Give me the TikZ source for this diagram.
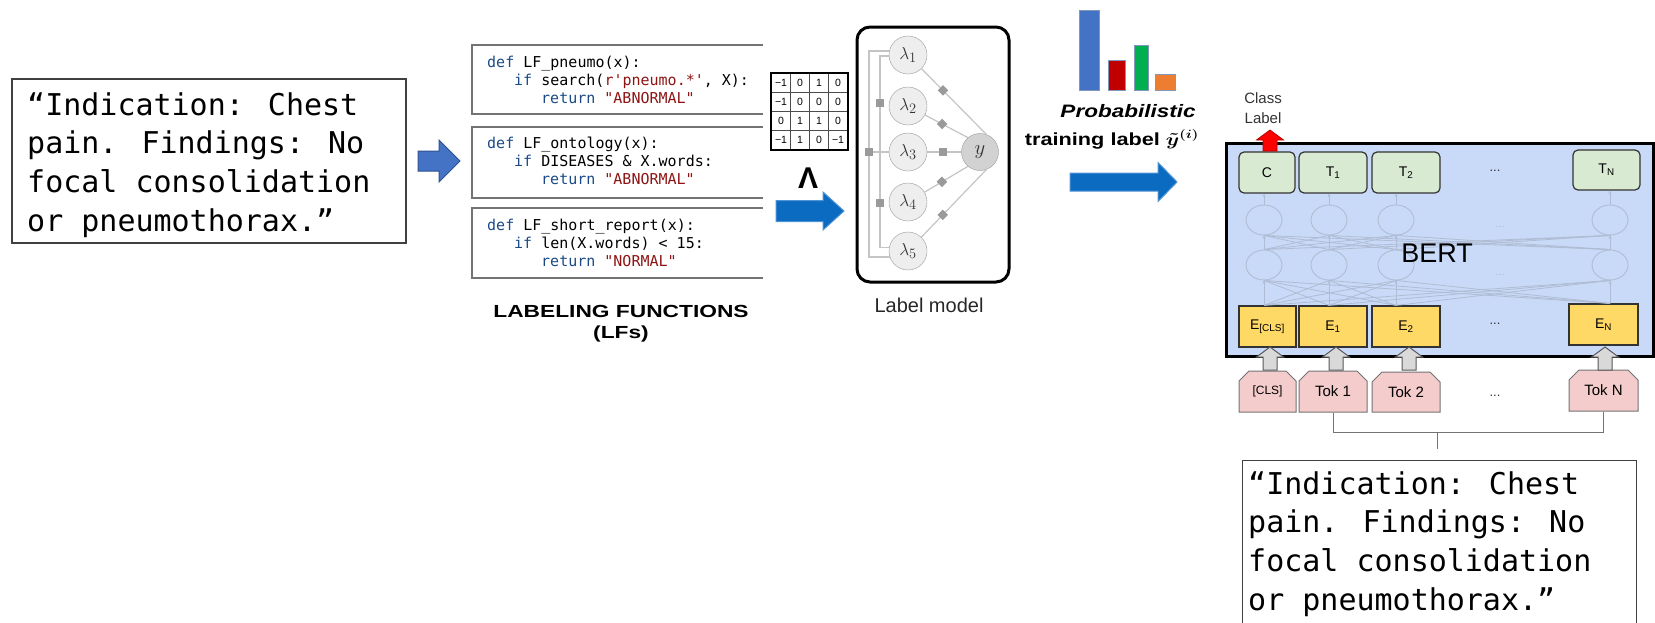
\documentclass[tikz,border=0pt]{standalone}
\usepackage{fontspec}
\usepackage{graphicx}
\usetikzlibrary{shapes.geometric,shapes.misc,arrows.meta,matrix}
\setmainfont{Liberation Sans}
\newfontfamily\reportfont{DejaVu Sans Mono}
\newfontfamily\codefont{DejaVu Sans Mono}

\definecolor{kwblue}{HTML}{1B4A86}
\definecolor{strred}{HTML}{8E1414}
\definecolor{arrowA}{HTML}{4472C4}
\definecolor{arrowAline}{HTML}{2F528F}
\definecolor{arrowB}{HTML}{0B6BC0}
\definecolor{arrowBline}{HTML}{4F93D6}
\definecolor{bertbg}{HTML}{C9DAF8}
\definecolor{tgreen}{HTML}{D9EAD3}
\definecolor{eyellow}{HTML}{FFD966}
\definecolor{tokpink}{HTML}{F4CCCC}
\definecolor{netgray}{HTML}{AFBCD3}
\definecolor{lmline}{HTML}{C4C4C4}
\definecolor{lmfac}{HTML}{9A9A9A}
\definecolor{lmnode}{HTML}{EEEEEE}
\definecolor{lmy}{HTML}{D2D2D2}
\definecolor{barblue}{HTML}{4472C4}
\definecolor{barred}{HTML}{C00000}
\definecolor{bargreen}{HTML}{00B050}
\definecolor{barorange}{HTML}{ED7D31}

% block arrow pointing right: style, tail x, tip x, centre y, half shaft, half head, head base x
\newcommand{\blockright}[7]{%
  \path[#1] (#2,#4-#5) -- (#7,#4-#5) -- (#7,#4-#6) -- (#3,#4) -- (#7,#4+#6)
    -- (#7,#4+#5) -- (#2,#4+#5) -- cycle;}
% block arrow pointing up: style, x, tip y, tail y
\newcommand{\blockup}[4]{%
  \path[#1] (#2-7,#4) -- (#2-7,#3+10) -- (#2-13.5,#3+10) -- (#2,#3)
    -- (#2+13.5,#3+10) -- (#2+7,#3+10) -- (#2+7,#4) -- cycle;}

\begin{document}
\begin{tikzpicture}[x=1pt,y=-1pt,
  reportframe/.style={draw=black!75,line width=1.3},
  reporttext/.style={font=\reportfont\fontsize{30}{38.6}\selectfont,align=left,inner sep=0,anchor=north west},
  codeframe/.style={draw=black!55,line width=1.5},
  codetext/.style={font=\codefont\fontsize{15}{18.3}\selectfont,align=left,inner sep=0,anchor=north west},
  bluearrow/.style={fill=arrowB,draw=arrowBline,line width=1},
  lmbox/.style={draw=black,line width=3,rounded corners=13,minimum width=152,minimum height=255,inner sep=0},
  lmvar/.style={circle,draw=black!40,fill=lmnode,minimum size=38,inner sep=0,font=\fontsize{19}{19}\selectfont,text=black!80},
  lmedge/.style={draw=lmline,line width=1.2},
  lmdia/.style={diamond,fill=lmfac,minimum size=11,inner sep=0},
  lmsq/.style={rectangle,fill=lmfac,minimum size=8,inner sep=0},
  bar/.style={draw=arrowAline!60,line width=0.8},
  tbox/.style={rectangle,rounded corners=5,fill=tgreen,draw=black!80,line width=1.2,minimum height=41,inner sep=0,font=\fontsize{14}{14}\selectfont},
  ebox/.style={rectangle,fill=eyellow,draw=black!80,line width=1.2,minimum height=41,inner sep=0,font=\fontsize{14}{14}\selectfont},
  tokbox/.style={chamfered rectangle,chamfered rectangle corners={north west,north east},chamfered rectangle xsep=5pt,chamfered rectangle ysep=5pt,fill=tokpink,draw=black!55,line width=1,minimum height=41,inner sep=0,font=\fontsize{15}{15}\selectfont},
  netnode/.style={ellipse,draw=netgray,line width=0.9,minimum width=36,minimum height=30,inner sep=0},
  netline/.style={draw=netgray,line width=0.8},
  netarrow/.style={draw=netgray,line width=0.8,-{Stealth[length=3.5,width=3]}},
  bracket/.style={draw=black!55,line width=1},
  dots/.style={font=\fontsize{13}{13}\selectfont,text=black!80},
  caption/.style={anchor=base,inner sep=0}
]
\useasboundingbox (0,0) rectangle (1655,622);

% ---------------- input report ----------------
\node[reportframe,rectangle,minimum width=394,minimum height=164,inner sep=0] (rep) at (209,161) {};
\node[reporttext] (reptext) at (27,88) {\strut “Indication: Chest\\pain. Findings: No\\focal consolidation\\or pneumothorax.”};

\blockright{fill=arrowA,draw=arrowAline,line width=1}{418}{460}{161}{10}{21}{439}

% ---------------- labeling functions ----------------
\draw[codeframe] (763,45) -- (472,45) -- (472,114) -- (763,114);
\draw[codeframe] (763,127) -- (472,127) -- (472,198) -- (763,198);
\draw[codeframe] (763,208) -- (472,208) -- (472,278) -- (763,278);

\node[codetext] (lf1) at (487,54.2) {\strut\textcolor{kwblue}{def} LF\_pneumo(x):\\
\hspace*{27pt}\textcolor{kwblue}{if} search(\textcolor{strred}{r\char"27\relax pneumo.*\char"27\relax}, X):\\
\hspace*{54pt}\textcolor{kwblue}{return} \textcolor{strred}{"ABNORMAL"}};
\node[codetext] (lf2) at (487,135.2) {\strut\textcolor{kwblue}{def} LF\_ontology(x):\\
\hspace*{27pt}\textcolor{kwblue}{if} DISEASES \& X.words:\\
\hspace*{54pt}\textcolor{kwblue}{return} \textcolor{strred}{"ABNORMAL"}};
\node[codetext] (lf3) at (487,217.2) {\strut\textcolor{kwblue}{def} LF\_short\_report(x):\\
\hspace*{27pt}\textcolor{kwblue}{if} len(X.words) < 15:\\
\hspace*{54pt}\textcolor{kwblue}{return} \textcolor{strred}{"NORMAL"}};

\node[caption,font=\fontsize{17.5}{17.5}\selectfont\bfseries] (lfhead) at (621,317) {\scalebox{1.3}[1]{LABELING FUNCTIONS}};
\node[caption,font=\fontsize{17.5}{17.5}\selectfont\bfseries] (lfsub) at (621,338) {\scalebox{1.3}[1]{(LFs)}};

% ---------------- label matrix ----------------
\matrix (lfm) [matrix of nodes,anchor=north west,inner sep=0,column sep=-0.7pt,row sep=-0.7pt,
  nodes={draw=black!70,line width=0.7,minimum width=19,minimum height=19,inner sep=0,font=\fontsize{10.5}{10.5}\selectfont}]
  at (771,73) {
  −1 & 0 & 1 & 0 \\
  −1 & 0 & 0 & 0 \\
  0 & 1 & 1 & 0 \\
  −1 & 1 & 0 & −1 \\
};
\draw[line width=1.4] (lfm.north west) rectangle (lfm.south east);

\node[font=\fontsize{30}{30}\selectfont\bfseries] (wedge) at (808,178) {Λ};
\blockright{bluearrow}{776}{844}{211}{10.5}{19}{823}

% ---------------- label model ----------------
\node[lmbox] (lm) at (933,154.5) {};
\node[lmvar] (l1) at (908,55) {$\lambda_1$};
\node[lmvar] (l2) at (908,106) {$\lambda_2$};
\node[lmvar] (l3) at (908,152) {$\lambda_3$};
\node[lmvar] (l4) at (908,202) {$\lambda_4$};
\node[lmvar] (l5) at (908,251) {$\lambda_5$};
\node[lmvar,fill=lmy,minimum size=37,font=\fontsize{22}{22}\selectfont] (yv) at (980,152) {$y$};

\draw[lmedge] (l1) -- node[lmdia,pos=0.33] (d1) {} (yv.70);
\draw[lmedge] (l2) -- node[lmdia,pos=0.4] (d2) {} (yv.130);
\draw[lmedge] (l3) -- node[lmsq,pos=0.45] (d3) {} (yv);
\draw[lmedge] (l4) -- node[lmdia,pos=0.4] (d4) {} (yv.230);
\draw[lmedge] (l5) -- node[lmdia,pos=0.33] (d5) {} (yv.290);

\draw[lmedge] (l1.168) -| (869,152) |- (l5.198);
\draw[lmedge] (l1.183) -| (880,152) |- (l5.170);
\draw[lmedge] (869,152) -- (l3.west);
\node[lmsq] (f13) at (880,103) {};
\node[lmsq] (f135) at (869,152) {};
\node[lmsq] (f35) at (880,203) {};

\node[caption,font=\fontsize{20}{20}\selectfont,text=black!85] (lmcap) at (929,312) {Label model};

% ---------------- probabilistic label ----------------
\draw[bar,fill=barblue] (1079,10) rectangle (1099,90);
\draw[bar,fill=barred] (1108,60) rectangle (1125,90);
\draw[bar,fill=bargreen] (1134,45) rectangle (1148,90);
\draw[bar,fill=barorange] (1155,74) rectangle (1175,90);

\node[caption,font=\fontsize{18}{18}\selectfont] (ptitle) at (1128,117) {\scalebox{1.25}[1]{\bfseries\itshape Probabilistic}};
\node[caption,font=\fontsize{17.5}{17.5}\selectfont] (plabel) at (1112,145) {\scalebox{1.24}[1]{\bfseries training label \boldmath$\tilde{y}^{(i)}$}};

\blockright{bluearrow}{1070}{1177}{182}{9}{19.5}{1158}

% ---------------- BERT ----------------
\node[rectangle,draw=black,line width=3,fill=bertbg,minimum width=427,minimum height=213,inner sep=0] (bert) at (1439.5,249.5) {};

\node[tbox,minimum width=56] (tc) at (1267,172.5) {C};
\node[tbox,minimum width=68] (t1) at (1333,172.5) {T\textsubscript{1}};
\node[tbox,minimum width=68] (t2) at (1406,172.5) {T\textsubscript{2}};
\node[tbox,minimum width=67,minimum height=40] (tn) at (1606.5,170) {T\textsubscript{N}};
\node[dots] (tdots) at (1495,171) {...};

\node[ebox,minimum width=57] (ecls) at (1267.5,326.5) {E\textsubscript{\fontsize{10}{10}\selectfont[CLS]}};
\node[ebox,minimum width=68] (e1) at (1333,326.5) {E\textsubscript{1}};
\node[ebox,minimum width=68] (e2) at (1406,326.5) {E\textsubscript{2}};
\node[ebox,minimum width=69] (en) at (1603.5,324.5) {E\textsubscript{N}};
\node[dots] (edots) at (1495,324) {...};

% hidden layers of the encoder
\foreach \i/\x in {1/1264,2/1329,3/1396,4/1610} {
  \node[netnode] (lo\i) at (\x,265) {};
  \node[netnode] (up\i) at (\x,220) {};
}
\foreach \i/\e/\t in {1/ecls/tc,2/e1/t1,3/e2/t2,4/en/tn} {
  \foreach \j in {1,2,3,4} {
    \draw[netline] (lo\i.south |- \e.north) -- (lo\j.south);
    \draw[netline] (lo\i.north) -- (up\j.south);
  }
  \draw[netarrow] (lo\i.south |- \e.north) -- (lo\i.south);
  \draw[netarrow] (lo\i.north) -- (up\i.south);
  \draw[netarrow] (up\i.north) -- (up\i.north |- \t.south);
}
\node[font=\fontsize{11}{11}\selectfont,text=netgray] (ndots1) at (1500,227) {...};
\node[font=\fontsize{11}{11}\selectfont,text=netgray] (ndots2) at (1500,275) {...};

\node[font=\fontsize{27}{27}\selectfont] (berttxt) at (1437,253) {BERT};

% class label output
\node[anchor=north,align=center,font=\fontsize{15}{20}\selectfont,text=black!80,inner sep=0] (cls) at (1263,89) {\strut Class\\Label};
\blockup{fill=red,draw=red!70!black,line width=0.8}{1270}{130}{151}

% tokens
\node[tokbox,minimum width=57,font=\fontsize{12}{12}\selectfont] (tcls) at (1267.5,391.5) {[CLS]};
\node[tokbox,minimum width=68] (tok1) at (1333,391.5) {Tok 1};
\node[tokbox,minimum width=68,minimum height=40] (tok2) at (1406,392) {Tok 2};
\node[tokbox,minimum width=69] (tokn) at (1603.5,390.5) {Tok N};
\node[dots] (tokdots) at (1495,396) {...};

\foreach \x in {1270,1336,1409,1605} {
  \blockup{fill=black!15,draw=black!65,line width=1}{\x}{347}{370}
}

% tokenised report bracket
\draw[bracket] (tok1.south) -- ++(0,20) -| (tokn.south);
\coordinate (bmid) at (1437,432);
\coordinate (bend) at (1437,449);
\draw[bracket] (bmid) -- (bend);

% ---------------- report fed to BERT ----------------
\begin{scope}
\clip (0,0) rectangle (1655,622);
\node[reportframe,rectangle,minimum width=394,minimum height=190,inner sep=0,anchor=north west] (rep2) at (1242,460) {};
\end{scope}
\node[reporttext] (rep2text) at (1248,467) {\strut “Indication: Chest\\pain. Findings: No\\focal consolidation\\or pneumothorax.”};

\end{tikzpicture}
\end{document}
